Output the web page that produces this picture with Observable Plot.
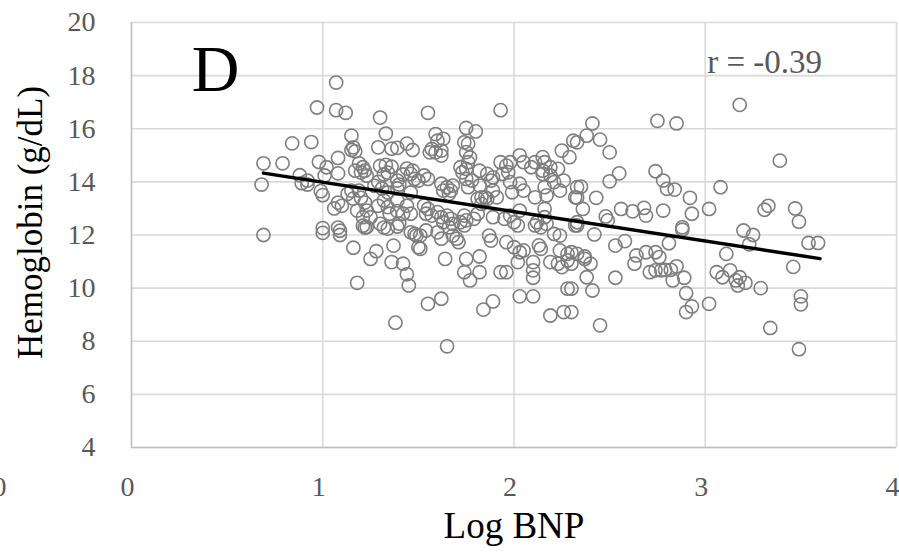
<!DOCTYPE html>
<html>
<head>
<meta charset="utf-8">
<script src="https://cdn.jsdelivr.net/npm/d3@7"></script>
<script src="https://cdn.jsdelivr.net/npm/@observablehq/plot@0.6"></script>
<style>
  html, body { margin: 0; padding: 0; background: #fff; }
  #chart { width: 899px; height: 554px; overflow: hidden; }
</style>
</head>
<body>
<div id="chart"></div>
<script>
// ---- Data ----
const logBNP = [
  0.68,0.69,0.69,0.79,0.84,0.88,0.89,0.92,0.92,0.94,0.97,0.98,0.99,1.00,1.00,1.00,1.01,1.02,
  1.07,1.07,1.08,1.08,1.08,1.06,1.10,1.08,1.09,1.09,1.12,1.15,1.15,1.17,1.16,1.19,1.21,1.20,
  1.22,1.17,1.23,1.15,1.13,1.19,1.16,1.20,1.22,1.18,1.23,1.21,1.25,1.21,1.22,1.23,1.16,1.18,
  1.25,1.28,1.30,1.33,1.29,1.36,1.39,1.44,1.47,1.30,1.33,1.36,1.34,1.32,1.44,1.46,1.42,1.39,
  1.40,1.50,1.29,1.27,1.31,1.34,1.39,1.46,1.29,1.32,1.34,1.39,1.44,1.42,1.46,1.35,1.39,1.30,
  1.32,1.34,1.39,1.40,1.46,1.49,1.50,1.37,1.36,1.42,1.44,1.45,1.38,
  1.55,1.93,1.59,1.60,1.63,1.75,1.80,1.74,1.76,1.57,1.59,1.62,1.62,1.56,1.75,1.77,1.76,1.72,
  1.75,1.73,1.82,1.86,1.89,1.88,1.93,1.96,1.98,1.97,1.94,1.47,1.53,1.55,1.48,1.62,1.65,1.68,
  1.63,1.67,1.66,1.75,1.78,1.76,1.82,1.83,1.86,1.89,1.91,1.81,1.98,1.99,1.53,1.55,1.54,1.57,
  1.60,1.62,1.65,1.63,1.67,1.68,1.72,1.75,1.74,1.79,1.81,1.83,1.85,1.89,1.95,1.98,2.00,1.48,
  1.51,1.54,1.60,1.62,1.66,1.68,1.71,1.70,1.74,1.87,1.88,1.96,2.00,1.51,1.64,1.75,1.82,1.74,
  1.77,1.82,1.93,1.96,1.55,1.62,1.84,1.89,1.65,
  2.03,2.05,2.09,2.11,2.15,2.16,2.19,2.15,2.19,2.23,2.25,2.29,2.31,2.03,2.05,2.11,2.16,2.17,
  2.21,2.24,2.26,2.15,2.16,2.32,2.33,2.03,2.12,2.14,2.16,2.02,2.03,2.05,2.13,2.14,2.21,2.24,
  2.32,2.11,2.17,2.02,2.10,2.10,2.10,2.19,2.23,2.25,2.28,2.28,2.24,2.03,2.10,2.19,2.26,2.28,
  2.41,2.38,2.33,2.45,2.50,2.55,2.50,2.35,2.33,2.43,2.36,2.48,2.56,2.33,2.33,2.42,2.49,2.53,
  2.58,2.30,2.33,2.37,2.40,2.37,2.30,2.38,2.41,2.30,2.30,2.45,2.53,
  2.62,2.68,2.69,2.78,2.93,3.02,2.88,2.88,2.81,2.75,2.85,3.18,2.74,2.78,2.80,2.84,3.08,2.92,
  2.64,2.63,2.69,2.74,2.76,2.71,2.74,2.77,2.79,2.82,2.85,2.83,2.89,2.90,2.93,2.90,3.02,3.06,
  3.09,3.13,3.16,3.17,3.18,3.11,3.20,3.23,3.25,3.21,3.29,3.31,3.33,3.39,3.47,3.49,3.46,3.54,
  3.59,3.34,3.49,3.50,3.50
];
const hemoglobin = [
  13.90,14.70,12.00,14.70,15.45,14.25,13.95,14.05,13.90,15.50,16.80,14.75,13.65,13.50,12.08,12.26,14.24,14.55,
  17.74,16.70,14.90,14.32,13.22,13.00,13.10,12.28,12.16,12.00,16.60,15.74,15.20,15.15,15.30,14.70,14.55,14.35,
  14.42,14.42,14.23,13.67,13.55,13.67,13.37,13.40,13.22,12.92,12.92,12.67,12.67,12.35,12.28,12.30,11.52,10.20,
  11.10,11.39,16.42,15.82,15.30,15.25,15.28,15.44,15.20,14.60,14.64,14.57,14.35,14.28,14.50,14.30,14.28,14.05,
  13.90,14.05,14.00,13.85,13.75,13.60,13.75,13.60,13.10,13.30,13.05,13.30,13.10,12.80,12.80,12.80,12.90,12.42,
  12.28,12.24,12.32,12.43,12.10,11.98,11.54,11.60,10.98,10.92,10.52,10.10,8.70,
  16.60,16.70,15.80,15.55,15.62,16.03,15.90,15.49,15.43,15.24,15.11,15.18,14.99,15.11,15.12,14.92,14.74,14.55,
  14.49,14.36,14.42,14.30,14.17,14.05,14.74,14.61,14.74,14.36,14.30,14.42,14.24,14.11,14.11,13.93,13.80,13.86,
  13.67,13.67,13.55,14.11,14.05,13.80,13.86,13.42,13.36,13.67,13.42,13.36,13.99,13.61,13.11,12.98,12.80,12.73,
  12.86,12.67,12.73,12.48,12.61,12.42,12.48,12.55,12.73,12.61,12.80,13.17,13.42,12.67,12.61,12.73,12.48,12.04,
  11.98,12.17,12.10,11.86,12.29,11.98,11.73,11.86,12.36,11.98,11.79,11.73,11.54,11.48,11.10,11.10,11.19,10.60,
  10.29,10.60,10.60,10.60,9.41,9.60,9.19,9.50,7.81,
  15.00,14.74,14.55,14.74,14.93,14.74,14.55,14.42,14.24,14.49,15.18,14.93,15.55,13.93,13.67,13.42,13.80,13.49,
  13.99,13.67,14.05,14.30,12.98,13.42,13.80,12.92,12.48,12.29,12.67,12.36,11.35,11.42,11.61,11.48,12.04,11.98,
  12.36,12.36,12.42,10.98,10.98,10.67,10.39,10.98,10.92,10.79,11.04,11.29,11.42,9.69,9.69,8.97,9.10,9.98,
  16.20,15.74,15.49,15.59,15.11,14.32,14.02,13.82,13.40,13.40,12.98,12.70,12.98,12.48,12.36,12.02,12.55,11.60,
  11.77,11.35,11.29,11.19,10.92,11.10,10.92,10.41,9.91,9.98,9.10,8.60,10.39,
  12.89,13.02,12.73,12.92,12.80,12.98,12.29,12.20,11.69,16.30,16.20,16.90,14.40,14.05,13.74,13.71,13.80,13.40,
  11.23,10.92,11.35,11.35,11.17,10.60,10.67,10.67,10.69,10.69,10.82,10.29,10.39,9.81,9.31,9.10,9.41,10.60,
  10.41,10.67,10.29,10.10,10.41,11.29,12.17,11.65,12.00,10.20,10.00,12.95,13.10,14.80,13.00,12.50,10.80,11.70,
  11.70,8.50,7.70,9.69,9.39
];
const trendX = [0.69, 3.60];
const trendY = [14.33, 11.11];
const xTicks = [0, 1, 2, 3, 4];
const yTicks = [4, 6, 8, 10, 12, 14, 16, 18, 20];
const strayLabel = ["0"];          // partially cut-off label at the far left edge
const strayLabelX = [-0.69];
const panelLetter = "D";
const rLabel = "r = -0.39";
const xTitle = "Log BNP";
const yTitle = "Hemoglobin (g/dL)";

// ---- Build tables ----
const n = Math.min(logBNP.length, hemoglobin.length);
const points = d3.range(n).map(i => ({x: logBNP[i], y: hemoglobin[i]}));
const trend = trendX.map((x, i) => ({x, y: trendY[i]}));

const font = "'Liberation Serif', 'Times New Roman', serif";
const grid = "#d9d9d9";
const tickColor = "#595959";

const chart = Plot.plot({
  width: 899,
  height: 554,
  marginLeft: 131,
  marginRight: 3,
  marginTop: 22,
  marginBottom: 107,
  x: {domain: [0, 4]},
  y: {domain: [4, 20]},
  style: {fontFamily: font, background: "#fff", overflow: "visible"},
  marks: [
    Plot.gridY(yTicks, {stroke: grid, strokeOpacity: 1, strokeWidth: 1.6}),
    Plot.gridX(xTicks.slice(1), {stroke: grid, strokeOpacity: 1, strokeWidth: 1.6}),
    Plot.ruleX([0], {stroke: "#bfbfbf", strokeWidth: 1.6}),
    Plot.ruleY([4], {stroke: "#bfbfbf", strokeWidth: 1.6}),
    Plot.axisY(yTicks, {tickSize: 0, tickPadding: 36, fontSize: 28, color: tickColor, label: null, tickFormat: d3.format("d")}),
    Plot.axisX(xTicks, {tickSize: 0, tickPadding: 29, fontSize: 28, color: tickColor, label: null, dx: -4, tickFormat: d3.format("d")}),
    Plot.text(strayLabel, {x: strayLabelX, frameAnchor: "bottom", dy: 48, fontSize: 28, fill: tickColor, text: d => d}),
    Plot.dot(points, {x: "x", y: "y", r: 6.6, stroke: "#7f7f7f", strokeWidth: 1.6, fill: "none"}),
    Plot.line(trend, {x: "x", y: "y", stroke: "#000", strokeWidth: 3.5}),
    Plot.text([panelLetter], {x: 0.44, y: 18.22, text: d => d, fontSize: 66, fill: "#000"}),
    Plot.text([rLabel], {x: 3.01, y: 18.5, text: d => d, fontSize: 33, fill: tickColor, textAnchor: "start"}),
    Plot.text([xTitle], {frameAnchor: "bottom", dy: 90, text: d => d, fontSize: 37, fill: "#000"}),
    Plot.text([yTitle], {x: -0.525, y: 12.47, rotate: -90, textAnchor: "middle", text: d => d, fontSize: 35, fill: "#000"})
  ]
});
document.getElementById("chart").appendChild(chart);
</script>
</body>
</html>
